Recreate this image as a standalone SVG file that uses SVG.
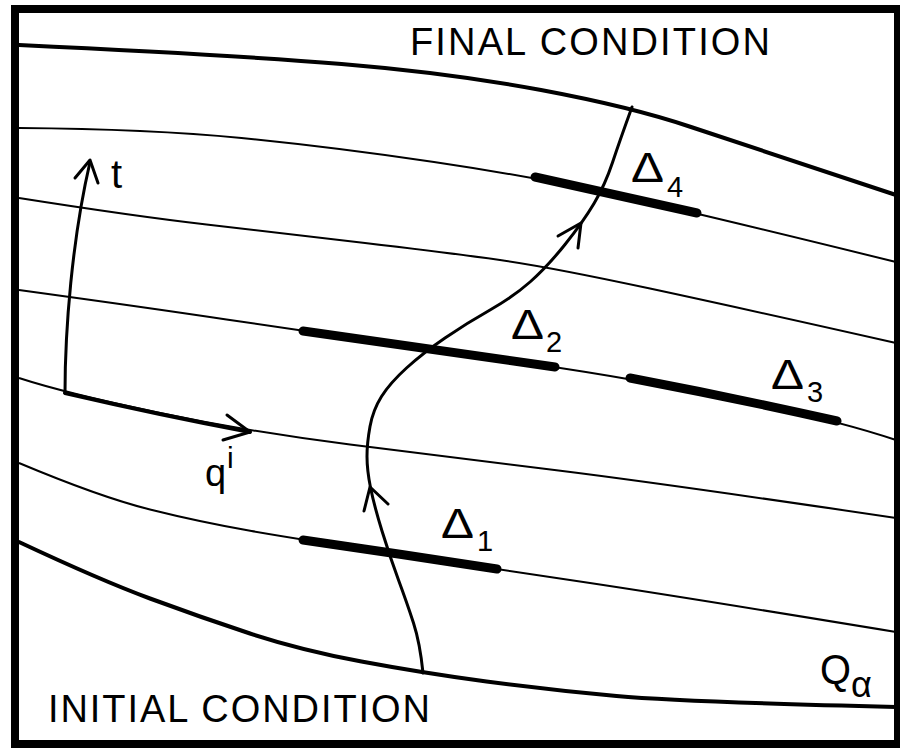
<svg xmlns="http://www.w3.org/2000/svg" width="900" height="753" viewBox="0 0 900 753">
<style>
.frame{fill:none;stroke:#000;stroke-width:8}
.bound{fill:none;stroke:#000;stroke-width:4;stroke-linecap:round}
.thin{fill:none;stroke:#000;stroke-width:2}
.traj{fill:none;stroke:#000;stroke-width:3;stroke-linecap:round;stroke-linejoin:round}
.bar{fill:none;stroke:#000;stroke-width:9;stroke-linecap:round}
.lbl{font-family:"Liberation Sans",Arial,sans-serif;fill:#000}
.dl{font-family:"Liberation Sans",Arial,sans-serif;fill:#000;font-size:42px}
.sub{font-family:"Liberation Sans",Arial,sans-serif;fill:#000;font-size:29px}
</style>
<rect class="frame" x="15" y="9" width="883" height="735"/>
<g id="surfaces">
<path class="bound" d="M19,45 Q233,55 341.5,64 Q450,73 541,90 Q632,107 691,127 Q750,147 896,195"/>
<path class="thin" d="M19,128 Q150,129 241.5,138 Q333,147 434,162 Q535,177 616,195 Q697,213 896,262"/>
<path class="thin" d="M19,198 Q133,216 206.5,224.5 Q280,233 365,243 Q450,253 500,260 Q550,267 650,288.5 Q750,310 896,343"/>
<path class="thin" d="M19,290 Q150,308 226.5,319.5 Q303,331 376.5,341.5 Q450,352 540,365 Q630,378 733.5,399 Q837,420 896,440"/>
<path class="thin" d="M19,378 Q65,393 157.5,412.5 Q250,432 350,444.5 Q450,457 558.5,470.5 Q667,484 896,518"/>
<path class="thin" d="M19,463 Q100,497 150,509.5 Q200,522 251.5,531 Q303,540 400,554.5 Q497,569 590,583 Q683,597 896,632"/>
<path class="bound" d="M19,542 Q100,580 150,598.5 Q200,617 250,633.5 Q300,650 361.5,661.5 Q423,673 486.5,681.5 Q550,690 616.5,696 Q683,702 896,707"/>
</g>
<g id="bars">
<path class="bar" d="M303,540 Q400,554 497,569"/>
<path class="bar" d="M303,331 Q430,349 555,367"/>
<path class="bar" d="M630,378 Q735,398 837,421"/>
<path class="bar" d="M535,177 Q616,195 697,213"/>
</g>
<g id="axes">
<path class="traj" d="M65,393 C65,330 72,240 90,162"/>
<path class="traj" d="M75,178 L90,160 L98,183"/>
<path class="bound" d="M65,393 Q160,415 250,432"/>
<path class="traj" d="M227,415 L250,432 L223,440"/>
</g>
<g id="trajectory">
<path class="traj" d="M423,673 Q420,643 413.5,623 Q407,603 398.5,580 Q390,557 382,531 Q374,505 370.5,487.5 Q367,470 367,456.5 Q367,443 370,426.5 Q373,410 381.5,396.5 Q390,383 406.5,368 Q423,353 445,338 Q467,323 490,310 Q513,297 530,282 Q547,267 565,244.5 Q583,222 594,203.5 Q605,185 612.5,162.5 Q620,140 632,107"/>
<path class="traj" d="M364,511 L370,487 L388,504"/>
<path class="traj" d="M558,236 L581,223 L578,248"/>
</g>
<g id="labels">
<text class="lbl" x="410" y="55" font-size="38" textLength="360" lengthAdjust="spacing">FINAL CONDITION</text>
<text class="lbl" x="48" y="722" font-size="38" textLength="382" lengthAdjust="spacing">INITIAL CONDITION</text>
<text class="lbl" x="111" y="188" font-size="40">t</text>
<text class="lbl" x="205" y="486" font-size="38">q</text>
<text class="lbl" x="227" y="468" font-size="30">i</text>
<text class="dl" x="441" y="538" textLength="33" lengthAdjust="spacingAndGlyphs">Δ</text>
<text class="sub" x="477" y="551" font-size="32px">1</text>
<text class="dl" x="511" y="339" textLength="33" lengthAdjust="spacingAndGlyphs">Δ</text>
<text class="sub" x="546" y="352">2</text>
<text class="dl" x="771" y="389" textLength="33" lengthAdjust="spacingAndGlyphs">Δ</text>
<text class="sub" x="807" y="402">3</text>
<text class="dl" x="631" y="182" textLength="33" lengthAdjust="spacingAndGlyphs">Δ</text>
<text class="sub" x="667" y="197">4</text>
<text class="lbl" x="820" y="684" font-size="42" textLength="31" lengthAdjust="spacingAndGlyphs">Q</text>
<text class="lbl" x="851" y="697" font-size="36">α</text>
</g>
</svg>
